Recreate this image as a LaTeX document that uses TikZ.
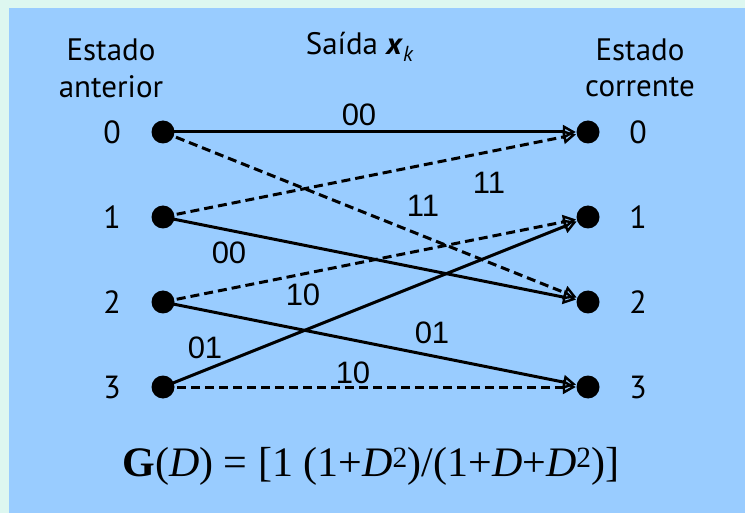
\documentclass[tikz,border=0pt]{standalone}
\usepackage{fontspec}
\setmainfont{PT Sans}
\newfontfamily\lblfont{Liberation Sans}
\newfontfamily\frmfont{Liberation Serif}
\usetikzlibrary{arrows.meta}
\definecolor{mint}{HTML}{DDF7F0}
\definecolor{panel}{HTML}{99CCFF}
\tikzset{
  dot/.style={circle,fill=black,inner sep=0pt,minimum size=23pt},
  hdr/.style={font=\fontsize{31}{37}\selectfont,align=center,inner sep=0pt},
  num/.style={font=\fontsize{32}{38}\selectfont,inner sep=0pt},
  elab/.style={font=\lblfont\fontsize{31}{35}\selectfont,inner sep=0pt},
  trans/.style={line width=3pt,-{Triangle[open,length=13pt,width=14pt,line width=2.4pt]},shorten >=0.5pt},
  solidtr/.style={trans},
  dashtr/.style={trans,dash pattern=on 9pt off 5pt},
}
\begin{document}
\begin{tikzpicture}[x=1pt,y=-1pt]
\useasboundingbox (0,0) rectangle (745,513);
\fill[mint] (0,0) rectangle (745,513);
\fill[panel] (9,8) rectangle (745,513);
% headers
\node[hdr] (hl1) at (111,50) {Estado};
\node[hdr] (hl2) at (111,87) {anterior};
\node[hdr] (hm) at (360,47) {Saída \textbf{\textit{x}}\textsubscript{\textit{k}}};
\node[hdr] (hr1) at (640,50) {Estado};
\node[hdr] (hr2) at (640,87) {corrente};
% dots
\foreach \i/\y in {0/132,1/217,2/302,3/387}{
  \node[dot] (l\i) at (163,\y) {};
  \node[dot] (r\i) at (588,\y) {};
  \node[num] (nl\i) at (112,\y) {\i};
  \node[num] (nr\i) at (638,\y) {\i};
}
% transitions
\draw[solidtr] (l0.center) -- (r0);
\draw[dashtr] (l0.center) -- (r2);
\draw[dashtr] (l1.center) -- (r0);
\draw[solidtr] (l1.center) -- (r2);
\draw[dashtr] (l2.center) -- (r1);
\draw[solidtr] (l2.center) -- (r3);
\draw[solidtr] (l3.center) -- (r1);
\draw[dashtr] (l3.center) -- (r3);
% edge labels
\node[elab] (e00a) at (359,115) {00};
\node[elab] (e11a) at (489,183) {11};
\node[elab] (e11b) at (423,206) {11};
\node[elab] (e00b) at (229,253) {00};
\node[elab] (e10a) at (303,295) {10};
\node[elab] (e01a) at (432,333) {01};
\node[elab] (e01b) at (205,348) {01};
\node[elab] (e10b) at (353,373) {10};
% formula
\node[font=\frmfont\fontsize{42}{48}\selectfont,inner sep=0pt] (gf) at (371,466)
  {\textbf{G}(\textit{D}) = [1 (1+\textit{D}\textsuperscript{2})/(1+\textit{D}+\textit{D}\textsuperscript{2})]};
\end{tikzpicture}
\end{document}
